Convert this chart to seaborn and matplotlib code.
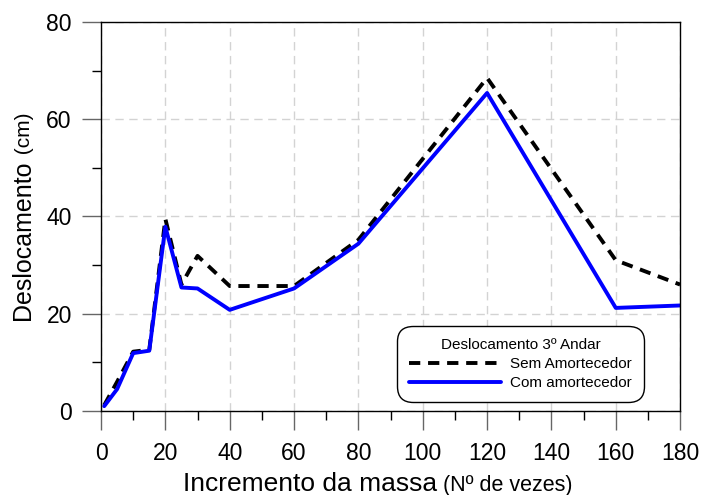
import numpy as np
import pandas as pd
import matplotlib
matplotlib.use("Agg")
import matplotlib.pyplot as plt
from matplotlib.ticker import MultipleLocator
from matplotlib.lines import Line2D
import seaborn as sns

# Mass increment (number of times) and 3rd-floor displacement (cm)
incremento = [1, 5, 10, 15, 20, 25, 30, 40, 60, 80, 120, 160, 180]
sem_amortecedor = [1.2, 6.0, 12.2, 12.6, 39.5, 26.0, 31.9, 25.7, 25.7, 35.2, 68.5, 31.0, 26.0]
com_amortecedor = [1.0, 4.5, 11.9, 12.4, 37.9, 25.4, 25.2, 20.8, 25.2, 34.4, 65.4, 21.2, 21.7]
series_names = ["Sem Amortecedor", "Com amortecedor"]
legend_title = "Deslocamento 3º Andar"

df = pd.concat([
    pd.DataFrame({"x": incremento, "y": sem_amortecedor, "serie": series_names[0]}),
    pd.DataFrame({"x": incremento, "y": com_amortecedor, "serie": series_names[1]}),
], ignore_index=True)

sns.set_style("ticks")
plt.rcParams["font.family"] = ["Liberation Sans", "DejaVu Sans"]
plt.rcParams["text.color"] = "#000000"
plt.rcParams["xtick.labelcolor"] = "#000000"
plt.rcParams["ytick.labelcolor"] = "#000000"

fig = plt.figure(figsize=(7.01, 4.95), dpi=100)
ax = fig.add_axes([0.1441, 0.1697, 0.8261, 0.7859])

palette = {series_names[0]: "#000000", series_names[1]: "#0000FF"}
dashes = {series_names[0]: (2.9, 2.0), series_names[1]: ""}
sns.lineplot(data=df, x="x", y="y", hue="serie", style="serie",
             hue_order=series_names, style_order=series_names,
             palette=palette, dashes=dashes, linewidth=2.8,
             sort=False, ax=ax, legend=False)

ax.set_xlim(0, 180)
ax.set_ylim(0, 80)
ax.xaxis.set_major_locator(MultipleLocator(20))
ax.xaxis.set_minor_locator(MultipleLocator(10))
ax.yaxis.set_major_locator(MultipleLocator(20))
ax.yaxis.set_minor_locator(MultipleLocator(10))

ax.grid(True, which="major", color="#d3d3d3", linestyle=(0, (6, 4)), linewidth=1.0)
ax.set_axisbelow(True)

ax.tick_params(which="major", direction="out", length=14, width=1.0,
               color="#666666", labelsize=16.5, labelcolor="#000000")
ax.tick_params(axis="x", which="major", pad=8.5)
ax.tick_params(axis="y", which="major", pad=7)
ax.tick_params(which="minor", direction="out", length=6.5, width=1.0, color="#000000")
for sp in ax.spines.values():
    sp.set_visible(True)
    sp.set_color("#000000")
    sp.set_linewidth(1.0)

ax.set_xlabel("")
ax.set_ylabel("")

# Legend with title inside a rounded frame
handles = [
    Line2D([], [], color="#000000", linewidth=2.8, linestyle=(0, (2.9, 2.0))),
    Line2D([], [], color="#0000FF", linewidth=2.8),
]
leg = ax.legend(handles, series_names, title=legend_title, loc="lower right",
                bbox_to_anchor=(0.945, 0.012), fontsize=11, title_fontsize=11,
                handlelength=6.0, handletextpad=0.65, labelspacing=0.35,
                borderpad=0.55, frameon=True, fancybox=True, framealpha=1.0,
                labelcolor="#000000")
leg.get_title().set_color("#000000")
leg.get_frame().set_edgecolor("#000000")
leg.get_frame().set_linewidth(1.0)
leg.get_frame().set_boxstyle("round", pad=0.2, rounding_size=1.0)

# Axis titles with a smaller unit part
fig.canvas.draw()
r = fig.canvas.get_renderer()

t1 = fig.text(0.0, 0.009, "Incremento da massa", fontsize=19, ha="left", va="baseline")
t2 = fig.text(0.0, 0.009, " (Nº de vezes)", fontsize=15.5, ha="left", va="baseline")
w1 = t1.get_window_extent(r).width / fig.bbox.width
w2 = t2.get_window_extent(r).width / fig.bbox.width
x0 = 0.5385 - (w1 + w2) / 2
t1.set_x(x0)
t2.set_x(x0 + w1)

y1 = fig.text(0.043, 0.0, "Deslocamento", fontsize=18, rotation=90,
              ha="left", va="baseline", rotation_mode="anchor")
y2 = fig.text(0.043, 0.0, " (cm)", fontsize=15, rotation=90,
              ha="left", va="baseline", rotation_mode="anchor")
h1 = y1.get_window_extent(r).height / fig.bbox.height
h2 = y2.get_window_extent(r).height / fig.bbox.height
ystart = 0.5636 - (h1 + h2) / 2
y1.set_y(ystart)
y2.set_y(ystart + h1)

fig.savefig("out.png", dpi=100)
